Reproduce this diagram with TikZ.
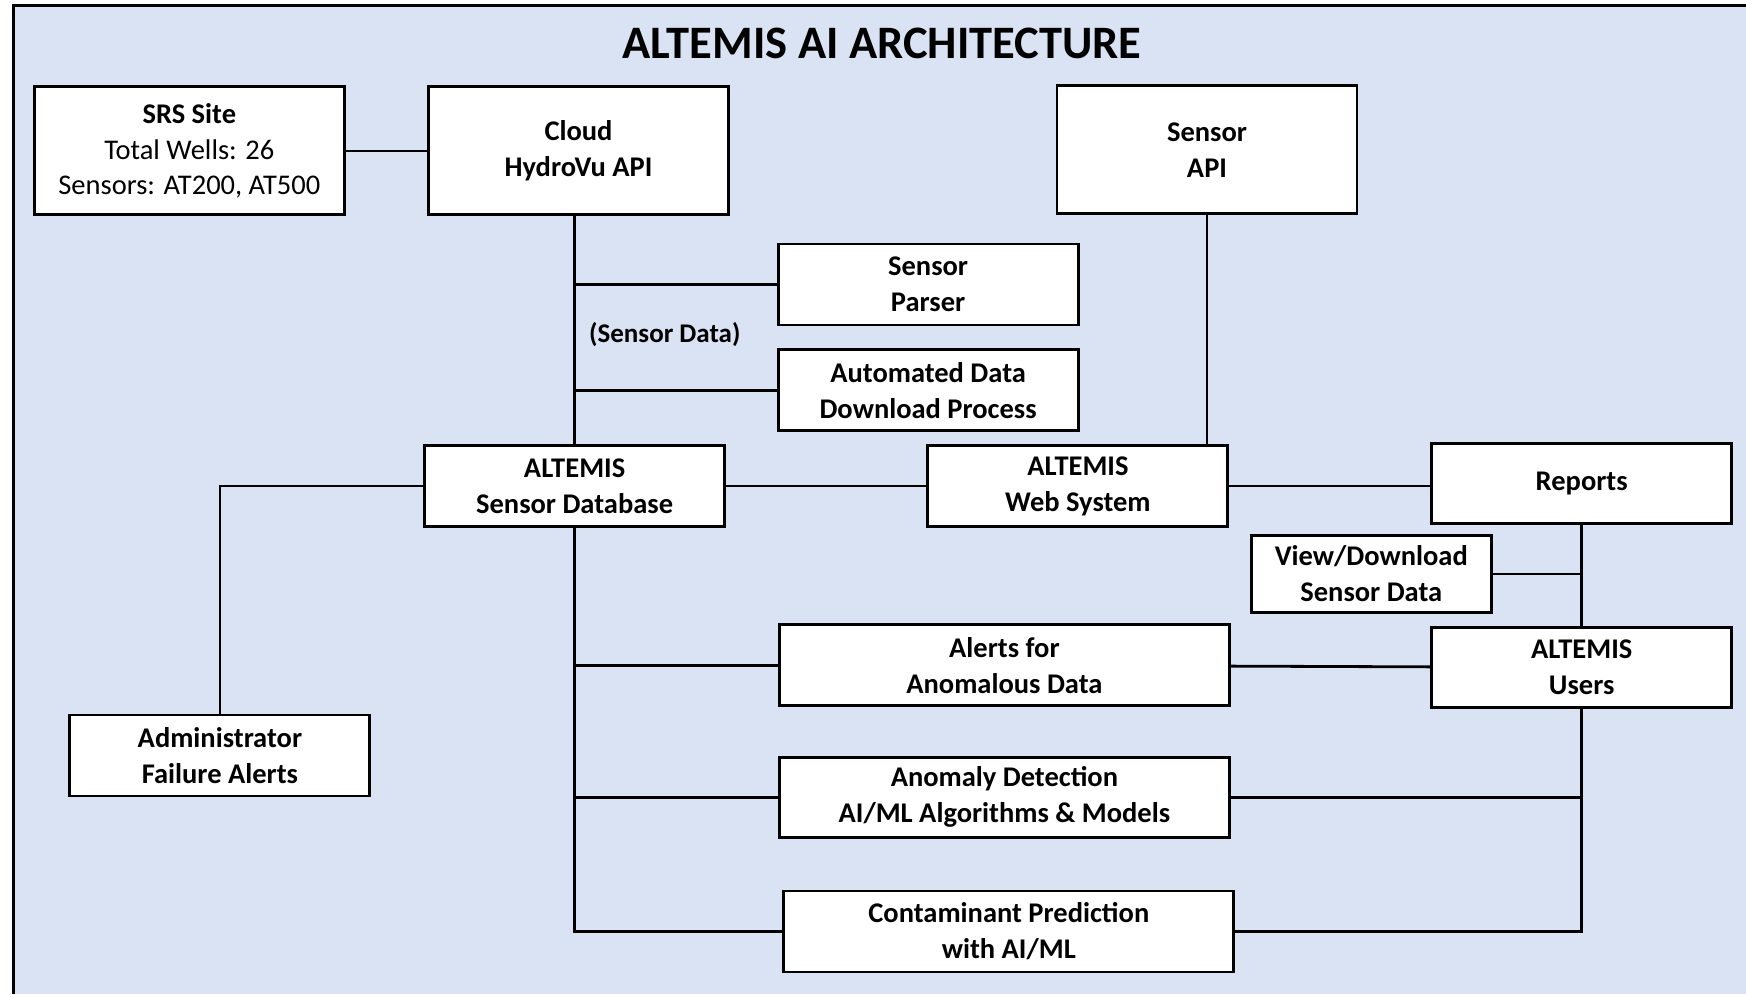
\documentclass[tikz,border=0pt]{standalone}
\usepackage{fontspec}
\setmainfont{Carlito}
\usetikzlibrary{positioning}
\definecolor{bgblue}{RGB}{218,227,243}

\begin{document}
\begin{tikzpicture}[x=1pt,y=-1pt,
    box/.style={draw,line width=2.9pt,fill=white,align=center,inner sep=0pt,
      minimum width=300pt,minimum height=81pt,
      font=\fontsize{28.5}{36}\selectfont\bfseries},
    wide/.style={box,minimum width=450pt},
    tall/.style={box,minimum height=128pt},
    link/.style={line width=2.8pt}]
    \useasboundingbox (0,0) rectangle (1746,994);
    \fill[bgblue] (13,5) rectangle (1746,994);
    \draw[line width=3pt] (13,994) -- (13,5) -- (1746,5);

    \node[font=\fontsize{46.5}{50}\selectfont\bfseries] (Title) at (882,43) {ALTEMIS AI ARCHITECTURE};

    \node[tall,minimum width=310pt,font=\fontsize{28.5}{35.5}\selectfont]
                                (SRS)    at (189.3,150.9) {\textbf{SRS Site}\\Total Wells: 26\\Sensors: AT200, AT500};
    \node[tall]                 (Cloud)  at (578.5,150.9) {Cloud\\HydroVu API};
    \node[tall]                 (API)    at (1207,149.8)  {Sensor\\API};
    \node[box]                  (Parser) at (928.1,284.5) {Sensor\\Parser};
    \node[box]                  (Auto)   [below=22pt of Parser] {Automated Data\\Download Process};
    \node[box]                  (DB)     at (574.6,486)   {ALTEMIS\\Sensor Database};
    \node[box]                  (Web)    at (1077.9,486)  {ALTEMIS\\Web System};
    \node[box,minimum height=80pt] (Rep) at (1581.7,483.5) {Reports};
    \node[box,minimum width=240pt,minimum height=77pt]
                                (View)   at (1371.3,574)  {View/Download\\Sensor Data};
    \node[box,minimum height=80pt] (Users) [below=101pt of Rep] {ALTEMIS\\Users};
    \node[wide]                 (Alerts) at (1004.4,665.3) {Alerts for\\Anomalous Data};
    \node[box]                  (Admin)  at (219.9,755.5) {Administrator\\Failure Alerts};
    \node[wide,minimum height=80pt] (Anom) at (1004.4,797.3) {Anomaly Detection\\AI/ML Algorithms \& Models};
    \node[wide]                 (Pred)   at (1008.8,931.5) {Contaminant Prediction\\with AI/ML};

    \node[font=\fontsize{27}{32}\selectfont\bfseries] (Data) at (664.8,335) {(Sensor Data)};

    \draw[link] (SRS) -- (Cloud);
    \draw[link] (DB.north |- Cloud.south) -- (DB.north);
    \draw[link] (Parser) -- (Parser -| DB.north);
    \draw[link] (Auto) -- (Auto -| DB.north);
    \draw[link] (API) -- (API |- Web.north);
    \draw[link] (DB) -- (Web);
    \draw[link] (Web.east) -- (Web.east -| Rep.west);
    \draw[link] (DB.west) -| (Admin.north);
    \draw[link] (DB.south) |- (Pred.west);
    \draw[link] (Alerts) -- (Alerts -| DB.south);
    \draw[link] (Anom) -- (Anom -| DB.south);
    \draw[link] (Rep.south) -- (Users.north);
    \draw[link] (View) -- (View -| Rep.south);
    \draw[link] (Alerts) -- (Users);
    \draw[link] (Users.south) |- (Pred.east);
    \draw[link] (Anom) -- (Anom -| Users.south);

  \end{tikzpicture}
\end{document}
